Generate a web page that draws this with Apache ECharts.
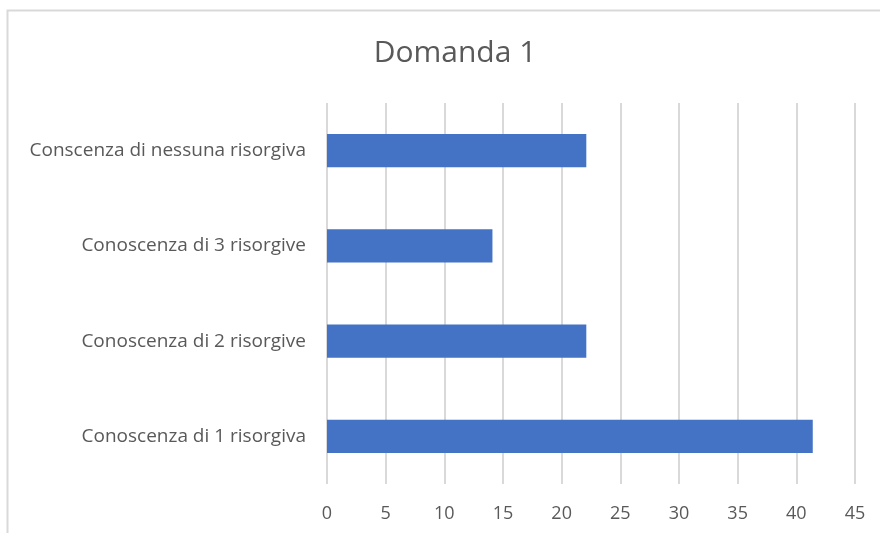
<!DOCTYPE html>
<html>
<head>
<meta charset="utf-8">
<script src="https://cdn.jsdelivr.net/npm/echarts@6/dist/echarts.min.js"></script>
<style>
    html, body { margin: 0; padding: 0; background: #fff; }
    #chart { width: 880px; height: 533px; }
</style>
</head>
<body>
<div id="chart"></div>
<script>
//dati del grafico
let categories = ["Conoscenza di 1 risorgiva", "Conoscenza di 2 risorgive", "Conoscenza di 3 risorgive", "Conscenza di nessuna risorgiva"];
let values = [41.4, 22.1, 14.1, 22.1];
let xTicks = [0, 5, 10, 15, 20, 25, 30, 35, 40, 45];

let textColor = "#595959";
let fontName = "'Open Sans', 'Noto Sans', sans-serif";

function createChart() {
    let myChart = echarts.init(document.getElementById("chart"));
    let option = {
        backgroundColor: "#fff",
        animation: false,
        title: {
            text: "Domanda 1",
            left: 450,
            top: 33,
            textAlign: "center",
            textStyle: { color: textColor, fontSize: 30, fontWeight: "normal", fontFamily: fontName }
        },
        graphic: [{
            type: "rect",
            shape: { x: 7.5, y: 10.5, width: 900, height: 600 },
            style: { fill: "none", stroke: "#d9d9d9", lineWidth: 2 },
            silent: true
        }],
        grid: { left: 327, right: 25, top: 103, bottom: 49 },
        xAxis: {
            type: "value",
            min: xTicks[0],
            max: xTicks[xTicks.length - 1],
            interval: xTicks[1] - xTicks[0],
            axisLine: { show: false },
            axisTick: { show: false },
            axisLabel: { color: textColor, fontSize: 18, margin: 21, fontFamily: fontName },
            splitLine: { lineStyle: { color: "#d9d9d9", width: 2 } }
        },
        yAxis: {
            type: "category",
            data: categories,
            axisLine: { show: false },
            axisTick: { show: false },
            axisLabel: { color: textColor, fontSize: 19, margin: 21, fontFamily: fontName }
        },
        series: [{
            type: "bar",
            data: values,
            barWidth: "35%",
            itemStyle: { color: "#4472C4" }
        }]
    };
    myChart.setOption(option);
}
createChart();
</script>
</body>
</html>
